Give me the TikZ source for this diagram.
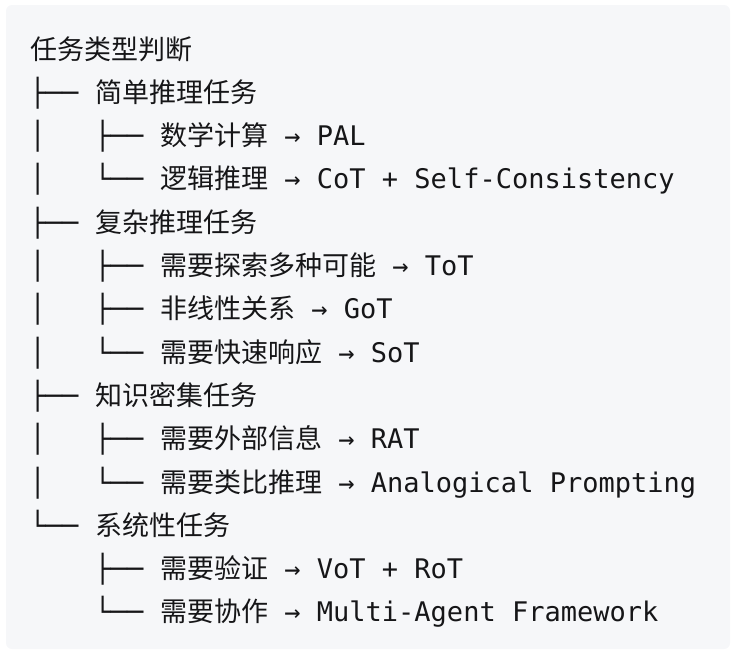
\documentclass[tikz,border=0pt]{standalone}
\usepackage{fontspec}
\setmonofont{DejaVu Sans Mono}
\newfontfamily\cj{Noto Sans CJK SC}
\definecolor{ink}{RGB}{22,22,24}
\definecolor{codebg}{RGB}{246,247,249}
\begin{document}
\begin{tikzpicture}[x=1pt,y=-1pt,
  ln/.style={anchor=base west, inner sep=0pt, text=ink, font=\fontsize{27}{30}\selectfont\ttfamily}]
\useasboundingbox (0,0) rectangle (736,654);
\fill[codebg, rounded corners=6pt] (6,5) rectangle (730,649);
% columns: 29.5 + 16.25*c
\node[ln] (t0) at (30.5,59) {\cj 任务类型判断};
% row 1
\node[ln] (p1) at (29.5,102.3) {├──};
\node[ln] (t1) at (95,102.3) {\cj 简单推理任务};
% row 2
\node[ln] (v2) at (29.5,145.6) {│};
\node[ln] (p2) at (94.5,145.6) {├──};
\node[ln] (t2) at (160,145.6) {{\cj 数学计算} → PAL};
% row 3
\node[ln] (v3) at (29.5,188.9) {│};
\node[ln] (p3) at (94.5,188.9) {└──};
\node[ln] (t3) at (160,188.9) {{\cj 逻辑推理} → CoT + Self-Consistency};
% row 4
\node[ln] (p4) at (29.5,232.2) {├──};
\node[ln] (t4) at (95,232.2) {\cj 复杂推理任务};
% row 5
\node[ln] (v5) at (29.5,275.5) {│};
\node[ln] (p5) at (94.5,275.5) {├──};
\node[ln] (t5) at (160,275.5) {{\cj 需要探索多种可能} → ToT};
% row 6
\node[ln] (v6) at (29.5,318.8) {│};
\node[ln] (p6) at (94.5,318.8) {├──};
\node[ln] (t6) at (160,318.8) {{\cj 非线性关系} → GoT};
% row 7
\node[ln] (v7) at (29.5,362.1) {│};
\node[ln] (p7) at (94.5,362.1) {└──};
\node[ln] (t7) at (160,362.1) {{\cj 需要快速响应} → SoT};
% row 8
\node[ln] (p8) at (29.5,405.4) {├──};
\node[ln] (t8) at (95,405.4) {\cj 知识密集任务};
% row 9
\node[ln] (v9) at (29.5,448.7) {│};
\node[ln] (p9) at (94.5,448.7) {├──};
\node[ln] (t9) at (160,448.7) {{\cj 需要外部信息} → RAT};
% row 10
\node[ln] (v10) at (29.5,492) {│};
\node[ln] (p10) at (94.5,492) {└──};
\node[ln] (t10) at (160,492) {{\cj 需要类比推理} → Analogical Prompting};
% row 11
\node[ln] (p11) at (29.5,535.3) {└──};
\node[ln] (t11) at (95,535.3) {\cj 系统性任务};
% row 12
\node[ln] (p12) at (94.5,578.6) {├──};
\node[ln] (t12) at (160,578.6) {{\cj 需要验证} → VoT + RoT};
% row 13
\node[ln] (p13) at (94.5,621.9) {└──};
\node[ln] (t13) at (160,621.9) {{\cj 需要协作} → Multi-Agent Framework};
\end{tikzpicture}
\end{document}
